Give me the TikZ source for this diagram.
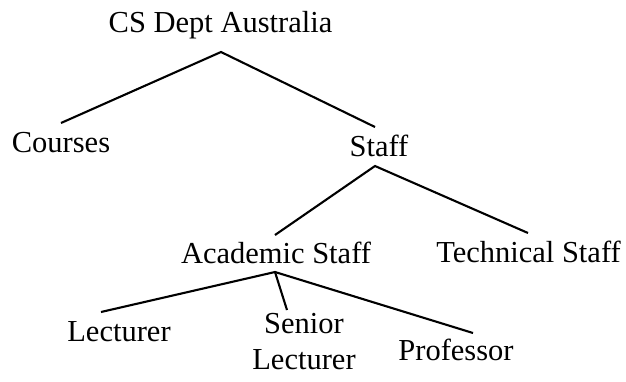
\documentclass[tikz,border=0pt]{standalone}
\usepackage{fontspec}
\setmainfont{Liberation Serif}
\begin{document}
\begin{tikzpicture}[x=1pt,y=-1pt,
  label/.style={anchor=base,inner sep=0pt,align=center,
    font=\fontsize{30.5}{36}\selectfont},
  branch/.style={line width=2.1pt,line cap=butt,line join=miter}]
\useasboundingbox (0,0) rectangle (626,381);

% labels, placed by baseline
\node[label] (root)  at (220.5,32) {CS Dept Australia};
\node[label] (courses) at (61,152) {Courses};
\node[label] (staff) at (379,156) {Staff};
\node[label] (acad)  at (276,263) {Academic Staff};
\node[label] (tech)  at (528.5,262) {Technical Staff};
\node[label] (lect)  at (119,341) {Lecturer};
\node[label,anchor=north] (senior) at (304,313.5) {Senior\\Lecturer};
\node[label] (prof)  at (456,360) {Professor};

% fork points and branch ends
\coordinate (root-fork) at (221,52);
\coordinate (courses-top) at (61,123);
\coordinate (staff-top) at (375,127);
\coordinate (staff-fork) at (375,166);
\coordinate (acad-top) at (275,235);
\coordinate (tech-top) at (528,233);
\coordinate (acad-fork) at (275,272);
\coordinate (lect-top) at (101,312);
\coordinate (senior-top) at (287,310);
\coordinate (prof-top) at (473,333);

% branches
\draw[branch] (courses-top) -- (root-fork) -- (staff-top);
\draw[branch] (acad-top) -- (staff-fork) -- (tech-top);
\draw[branch] (lect-top) -- (acad-fork) -- (prof-top);
\draw[branch] (acad-fork) -- (senior-top);
\end{tikzpicture}
\end{document}
